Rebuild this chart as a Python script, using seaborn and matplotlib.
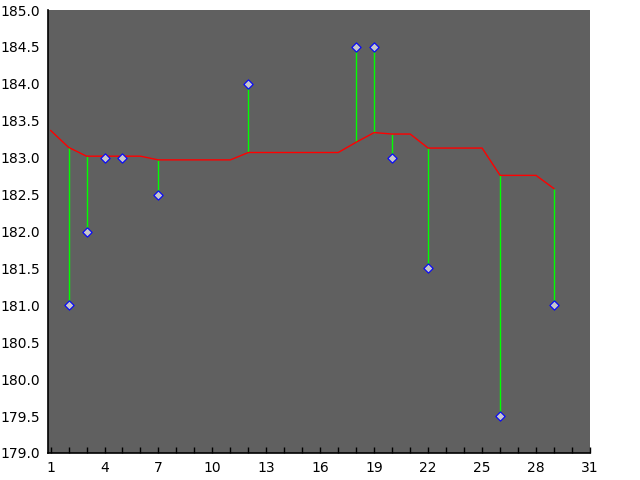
import matplotlib
matplotlib.use("Agg")
import matplotlib.pyplot as plt
import seaborn as sns
import pandas as pd
import numpy as np

# smoothed (red) curve, one value per day
line_x = list(range(1, 30))
line_y = [183.37, 183.14, 183.02, 183.02, 183.02, 183.02, 182.97, 182.97, 182.97, 182.97,
          182.97, 183.07, 183.07, 183.07, 183.07, 183.07, 183.07, 183.21, 183.34, 183.32,
          183.32, 183.13, 183.13, 183.13, 183.13, 182.76, 182.76, 182.76, 182.58]

# observed points
point_x = [2, 3, 4, 5, 7, 12, 18, 19, 20, 22, 26, 29]
point_y = [181.0, 182.0, 183.0, 183.0, 182.5, 184.0, 184.5, 184.5, 183.0, 181.5, 179.5, 181.0]

x_ticks = list(range(1, 32, 3))
y_ticks = [179.0, 179.5, 180.0, 180.5, 181.0, 181.5, 182.0, 182.5, 183.0, 183.5, 184.0, 184.5, 185.0]

sns.set_style("white")
plt.rcParams['font.family'] = ['DejaVu Sans']

fig = plt.figure(figsize=(6.4, 4.8), dpi=100)
ax = fig.add_axes([47.5/640, 1 - 453/480, (590 - 47.5)/640, (453 - 10)/480])
ax.set_facecolor("#606060")

line_df = pd.DataFrame({"x": line_x, "y": line_y})
pts_df = pd.DataFrame({"x": point_x, "y": point_y})

# green residual stems from curve to point
curve = dict(zip(line_x, line_y))
ax.vlines(point_x, [curve[x] for x in point_x], point_y, colors="#00ff00", linewidth=1.0, zorder=2)

sns.lineplot(data=line_df, x="x", y="y", ax=ax, color="#ff0000", linewidth=1.0, zorder=3)
sns.scatterplot(data=pts_df, x="x", y="y", ax=ax, marker="D", s=22, color="#c6c6cc",
                edgecolor="#0000ff", linewidth=0.8, zorder=4)

ax.set_xlim(0.83, 31)
ax.set_ylim(179, 185)
ax.set_xticks(x_ticks)
ax.set_xticklabels([str(t) for t in x_ticks])
ax.set_xticks(list(range(1, 32)), minor=True)
ax.set_yticks(y_ticks)
ax.set_yticklabels([f"{t:.1f}" for t in y_ticks])
ax.tick_params(axis="x", which="both", direction="in", length=4, width=1, color="black",
               bottom=True, pad=6, labelsize=10, labelcolor="black")
ax.tick_params(axis="y", which="both", length=0, pad=5, labelsize=10, labelcolor="black")
ax.set_xlabel("")
ax.set_ylabel("")

for side in ["top", "right"]:
    ax.spines[side].set_visible(False)
for side in ["left", "bottom"]:
    ax.spines[side].set_visible(True)
    ax.spines[side].set_color("black")
    ax.spines[side].set_linewidth(1.2)

fig.savefig("out.png", dpi=100)
